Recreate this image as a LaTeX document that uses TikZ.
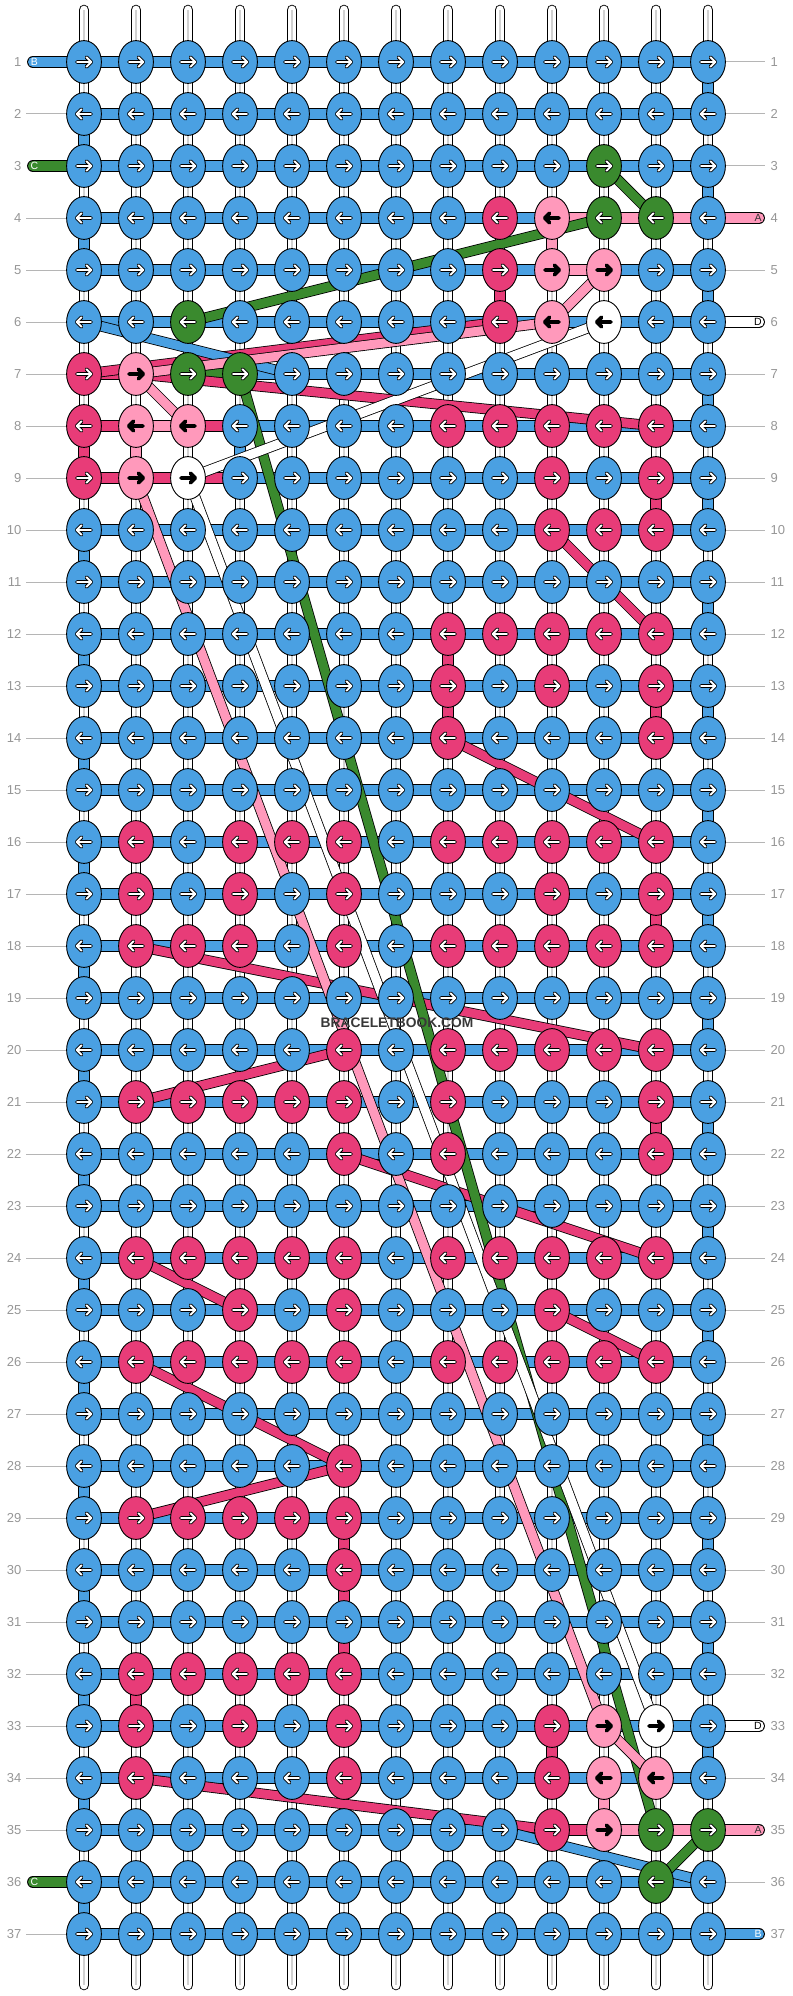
\documentclass[tikz,border=0pt]{standalone}
\usepackage{fontspec}
\setmainfont{Liberation Sans}
\usetikzlibrary{shapes.geometric}
\definecolor{bbblue}{RGB}{74,160,226}
\definecolor{bbred}{RGB}{232,60,120}
\definecolor{bbpink}{RGB}{255,153,187}
\definecolor{bbgreen}{RGB}{58,138,46}
\definecolor{bbgray}{RGB}{150,150,150}
\pgfdeclarelayer{ordito}
\pgfdeclarelayer{fili}
\pgfdeclarelayer{diagonali}
\pgfsetlayers{ordito,fili,diagonali,main}
\tikzset{
nodo/.style={ellipse,draw,line width=0.9pt,minimum width=34.8pt,minimum height=42.8pt,inner sep=0pt},
filo/.style={line width=0.9pt,double=#1,double distance=10pt},
diagonale/.style={line width=0.8pt,double=#1,double distance=9pt},
capo/.style={filo=#1,line cap=round},
ordito/.style={line width=0.9pt,double=white,double distance=8.8pt,line cap=round},
riga/.style={draw=bbgray!70,line width=1pt},
numero/.style={text=bbgray,font=\fontsize{13}{13}\selectfont,inner sep=0pt},
lettera/.style={font=\fontsize{10.5}{10.5}\selectfont,inner sep=0pt},
pics/freccia/.style={code={
  \draw[line width=3.9pt,line cap=round,line join=round] (-7,0) -- (7,0) (2.4,-4.8) -- (7.2,0) -- (2.4,4.8);
  \draw[#1,line width=1.9pt,line cap=round,line join=round] (-7,0) -- (7,0) (2.4,-4.8) -- (7.2,0) -- (2.4,4.8);
}}
}
% colour tables: row/{columns}
\newcommand\coloranodi[2]{\foreach \r/\cs in {#2}{\foreach \c in \cs{\expandafter\xdef\csname kc-\c-\r\endcsname{#1}}}}
\newcommand\colorafili[2]{\foreach \r/\cs in {#2}{\foreach \c in \cs{\expandafter\xdef\csname hc-\c-\r\endcsname{#1}}}}
\newcommand\frecceneri[1]{\foreach \r/\cs in {#1}{\foreach \c in \cs{\expandafter\xdef\csname ka-\c-\r\endcsname{black}}}}
\coloranodi{bbred}{4/{9},5/{9},6/{9},7/{1},8/{1,8,9,10,11,12},9/{1,10,12},10/{10,11,12},12/{8,9,10,11,12},13/{8,10,12},14/{8,12},16/{2,4,5,6,8,9,10,11,12},17/{2,4,6,10,12},18/{2,3,4,6,8,9,10,11,12},20/{6,8,9,10,11,12},21/{2,3,4,5,6,8,12},22/{6,8,12},24/{2,3,4,5,6,8,9,10,11,12},25/{4,6,10},26/{2,3,4,5,6,8,9,10,11,12},28/{6},29/{2,3,4,5,6},30/{6},32/{2,3,4,5,6},33/{2,4,6,10},34/{2,6,10},35/{10}}
\coloranodi{bbpink}{4/{10},5/{10,11},6/{10},7/{2},8/{2,3},9/{2},33/{11},34/{11,12},35/{11}}
\coloranodi{bbgreen}{3/{11},4/{11,12},6/{3},7/{3,4},35/{12,13},36/{12}}
\coloranodi{white}{6/{11},9/{3},33/{12}}
\frecceneri{4/{10},5/{10,11},6/{10,11},7/{2},8/{2,3},9/{2,3},33/{11,12},34/{11,12},35/{11}}
\colorafili{bbpink}{4/{10,11,12},5/{10},7/{2},8/{2},35/{11,12}}
\colorafili{bbred}{7/{1},8/{1,3},9/{1,2,3},35/{10}}
\colorafili{bbgreen}{7/{3}}

\begin{document}
\begin{tikzpicture}[x=1pt,y=-1pt]
\useasboundingbox (0,0) rectangle (792,1996);

% knots
\foreach \r in {1,...,37}{
  \foreach \c in {1,...,13}{
    \ifcsname kc-\c-\r\endcsname\edef\kfill{\csname kc-\c-\r\endcsname}\else\def\kfill{bbblue}\fi
    \node[nodo,fill=\kfill] (k\c-\r) at ({84+52*(\c-1)},{62+52*(\r-1)}) {};
  }
}

% arrows
\foreach \r in {1,...,37}{
  \pgfmathtruncatemacro\dir{2*mod(\r,2)-1}
  \foreach \c in {1,...,13}{
    \ifcsname ka-\c-\r\endcsname\def\akl{black}\else\def\akl{white}\fi
    \pic[xscale=\dir] at (k\c-\r) {freccia=\akl};
  }
}

% vertical strings
\begin{pgfonlayer}{ordito}
\foreach \c in {1,...,13}{
  \coordinate (top\c) at ({84+52*(\c-1)},10);
  \coordinate (bot\c) at ({84+52*(\c-1)},1985);
  \draw[ordito] (top\c) -- (bot\c);
  \draw[black!18,line width=1.2pt] (top\c) -- (bot\c);
}
\foreach \r in {2,4,5,...,35,37}{
  \coordinate (lg\r) at (26,{62+52*(\r-1)});
  \draw[riga] (lg\r) -- (k1-\r.center);
}
\foreach \r in {1,2,3,5,7,8,...,32,34,36}{
  \coordinate (rg\r) at (765,{62+52*(\r-1)});
  \draw[riga] (k13-\r.center) -- (rg\r);
}
\end{pgfonlayer}

% working strings
\begin{pgfonlayer}{fili}
\foreach \r in {1,...,37}{
  \foreach \c in {1,...,12}{
    \pgfmathtruncatemacro\cn{\c+1}
    \ifcsname hc-\c-\r\endcsname\edef\hkl{\csname hc-\c-\r\endcsname}\else\def\hkl{bbblue}\fi
    \draw[filo=\hkl] (k\c-\r.center) -- (k\cn-\r.center);
  }
}
\foreach \r in {1,3,...,33}{
  \pgfmathtruncatemacro\rn{\r+1}
  \draw[filo=bbblue] (k13-\r.center) -- (k13-\rn.center);
}
\foreach \r in {2,4,10,12,...,36}{
  \pgfmathtruncatemacro\rn{\r+1}
  \draw[filo=bbblue] (k1-\r.center) -- (k1-\rn.center);
}
\foreach \c/\r/\kl in {4/8/bbblue,9/5/bbred,1/8/bbred,12/9/bbred,8/12/bbred,8/13/bbred,12/13/bbred,12/17/bbred,12/21/bbred,6/29/bbred,6/30/bbred,6/31/bbred,2/32/bbred,10/33/bbred,10/4/bbpink,2/8/bbpink,11/34/bbpink}{
  \pgfmathtruncatemacro\rn{\r+1}
  \draw[filo=\kl] (k\c-\r.center) -- (k\c-\rn.center);
}
% string ends
\foreach \r/\kl in {1/bbblue,3/bbgreen,36/bbgreen}{
  \coordinate (pl\r) at (33,{62+52*(\r-1)});
  \draw[capo=\kl] (pl\r) -- (k1-\r.center);
}
\foreach \r/\kl in {4/bbpink,6/white,33/white,35/bbpink,37/bbblue}{
  \coordinate (pr\r) at (759,{62+52*(\r-1)});
  \draw[capo=\kl] (k13-\r.center) -- (pr\r);
}
\end{pgfonlayer}

% carried strings
\begin{pgfonlayer}{diagonali}
\foreach \a/\b/\kl in {9-6/1-7/bbred,2-7/12-8/bbred,10-10/12-12/bbred,8-14/12-16/bbred,2-18/12-20/bbred,6-20/2-21/bbred,6-22/12-24/bbred,2-24/4-25/bbred,10-25/12-26/bbred,2-26/6-28/bbred,6-28/2-29/bbred,2-34/10-35/bbred,1-6/5-7/bbblue,9-35/13-36/bbblue,11-3/12-4/bbgreen,11-4/3-6/bbgreen,4-7/12-35/bbgreen,13-35/12-36/bbgreen,11-5/10-6/bbpink,10-6/2-7/bbpink,2-7/3-8/bbpink,2-9/11-33/bbpink,11-33/12-34/bbpink,11-6/3-9/white,3-9/12-33/white}{
  \draw[diagonale=\kl] (k\a.center) -- (k\b.center);
}
\end{pgfonlayer}

% labels
\foreach \r in {1,...,37}{
  \node[numero,anchor=east] (ln\r) at (21.5,{62+52*(\r-1)}) {\r};
  \node[numero,anchor=west] (rn\r) at (770.5,{62+52*(\r-1)}) {\r};
}
\foreach \r/\t/\tk in {1/B/white,3/C/white,36/C/white}{
  \node[lettera,text=\tk] (lt\r) at (34.5,{62+52*(\r-1)}) {\t};
}
\foreach \r/\t/\tk in {4/A/black!80,6/D/black,33/D/black,35/A/black!80,37/B/white}{
  \node[lettera,text=\tk] (rt\r) at (758,{62+52*(\r-1)}) {\t};
}
\node[font=\bfseries\fontsize{13.8}{13.8}\selectfont,text=black!78,inner sep=0pt] (marchio) at (397,1023) {BRACELETBOOK.COM};

\end{tikzpicture}
\end{document}
